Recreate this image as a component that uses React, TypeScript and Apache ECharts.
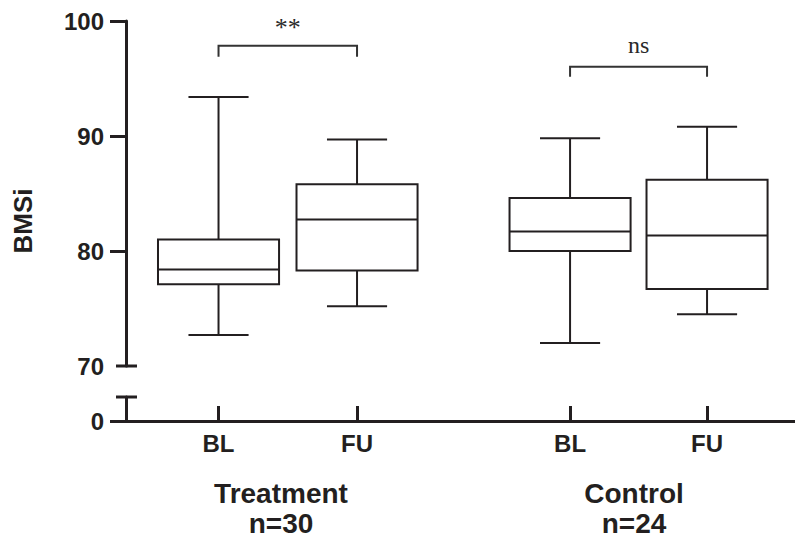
import React, { useEffect, useRef } from "react";
import * as echarts from "echarts";

// ---- data ----
const categories = ["BL", "FU", "BL", "FU"];
const groupLabels = ["Treatment\nn=30", "Control\nn=24"];
const positions = [1, 2, 3.538, 4.527];
const mins = [72.7, 75.2, 72.0, 74.5];
const q1s = [77.1, 78.3, 80.0, 76.7];
const medians = [78.4, 82.75, 81.7, 81.35];
const q3s = [81.0, 85.8, 84.6, 86.2];
const maxs = [93.4, 89.7, 89.8, 90.8];
const yTicksUpper = [70, 80, 90, 100];
const yTicksLower = [0];
// brackets
const bracketFrom = [0, 2];
const bracketTo = [1, 3];
const bracketTop = [97.85, 96.03];
const bracketBottom = [96.9, 95.16];
const bracketLabels = ["**", "ns"];
const bracketLabelY = [99.4, 97.9];
const bracketLabelSize = [26, 24];

const X_MIN = 0.332;
const X_MAX = 5.162;
const INK = "#231f20";

export default function App() {
  const ref = useRef<HTMLDivElement>(null);
  useEffect(() => {
    if (!ref.current) return;
    const chart = echarts.init(ref.current, null, { renderer: "svg" });
    const boxData = positions.map((p, i) => [p, mins[i], q1s[i], medians[i], q3s[i], maxs[i]]);
    const bracketData = bracketFrom.map((f, i) => [
      positions[f],
      positions[bracketTo[i]],
      bracketTop[i],
      bracketBottom[i],
      bracketLabelY[i],
      i,
    ]);
    const lineStyle = { stroke: INK, lineWidth: 2, fill: null };
    const labelFont = { fontFamily: "Liberation Sans", fontWeight: "bold" as const, fontSize: 24, color: INK };

    const option: any = {
      animation: false,
      grid: [
        { left: 126, right: 0, top: 21, height: 345 },
        { left: 126, right: 0, top: 397, height: 24 },
      ],
      xAxis: [
        { gridIndex: 0, type: "value", min: X_MIN, max: X_MAX, show: false },
        {
          gridIndex: 1,
          type: "value",
          min: X_MIN,
          max: X_MAX,
          splitLine: { show: false },
          axisLine: { show: true, lineStyle: { color: INK, width: 3 } },
          axisTick: {
            show: true,
            inside: true,
            length: 15,
            customValues: positions,
            lineStyle: { color: INK, width: 3 },
          },
          axisLabel: {
            ...labelFont,
            margin: 10,
            customValues: positions,
            formatter: (v: number) => {
              let best = 0;
              positions.forEach((p, i) => {
                if (Math.abs(p - v) < Math.abs(positions[best] - v)) best = i;
              });
              return categories[best];
            },
          },
        },
      ],
      yAxis: [
        {
          gridIndex: 0,
          type: "value",
          min: 70,
          max: 100,
          interval: 10,
          splitLine: { show: false },
          axisLine: { show: true, lineStyle: { color: INK, width: 3 } },
          axisTick: {
            show: true,
            length: 16,
            customValues: yTicksUpper.filter((v) => v !== 70),
            lineStyle: { color: INK, width: 3 },
          },
          axisLabel: { ...labelFont, margin: 22, customValues: yTicksUpper },
        },
        {
          gridIndex: 1,
          type: "value",
          min: 0,
          max: 1,
          splitLine: { show: false },
          axisLine: { show: true, lineStyle: { color: INK, width: 3 } },
          axisTick: {
            show: true,
            length: 16,
            customValues: yTicksLower,
            lineStyle: { color: INK, width: 3 },
          },
          axisLabel: { ...labelFont, margin: 22, customValues: yTicksLower },
        },
      ],
      series: [
        {
          type: "custom",
          xAxisIndex: 0,
          yAxisIndex: 0,
          data: boxData,
          encode: { x: 0, y: [1, 5] },
          renderItem: (params: any, api: any) => {
            const x = api.value(0);
            const pMin = api.coord([x, api.value(1)]);
            const pQ1 = api.coord([x, api.value(2)]);
            const pMed = api.coord([x, api.value(3)]);
            const pQ3 = api.coord([x, api.value(4)]);
            const pMax = api.coord([x, api.value(5)]);
            const unit = api.size([1, 0])[0];
            const hw = unit * 0.437;
            const cw = unit * 0.217;
            const cx = pMed[0];
            return {
              type: "group",
              children: [
                { type: "line", shape: { x1: cx, y1: pMax[1], x2: cx, y2: pQ3[1] }, style: lineStyle },
                { type: "line", shape: { x1: cx - cw, y1: pMax[1], x2: cx + cw, y2: pMax[1] }, style: lineStyle },
                { type: "line", shape: { x1: cx, y1: pQ1[1], x2: cx, y2: pMin[1] }, style: lineStyle },
                { type: "line", shape: { x1: cx - cw, y1: pMin[1], x2: cx + cw, y2: pMin[1] }, style: lineStyle },
                {
                  type: "rect",
                  shape: { x: cx - hw, y: pQ3[1], width: 2 * hw, height: pQ1[1] - pQ3[1] },
                  style: { stroke: INK, lineWidth: 2, fill: "#fff" },
                },
                { type: "line", shape: { x1: cx - hw, y1: pMed[1], x2: cx + hw, y2: pMed[1] }, style: lineStyle },
              ],
            };
          },
        },
        {
          type: "custom",
          xAxisIndex: 0,
          yAxisIndex: 0,
          data: bracketData,
          clip: false,
          renderItem: (params: any, api: any) => {
            const a = api.coord([api.value(0), api.value(2)]);
            const b = api.coord([api.value(1), api.value(2)]);
            const bottom = api.coord([api.value(0), api.value(3)]);
            const lab = api.coord([(api.value(0) + api.value(1)) / 2, api.value(4)]);
            const idx = api.value(5);
            return {
              type: "group",
              children: [
                {
                  type: "polyline",
                  shape: { points: [[a[0], bottom[1]], [a[0], a[1]], [b[0], b[1]], [b[0], bottom[1]]] },
                  style: { stroke: "#333", lineWidth: 2, fill: null },
                },
                {
                  type: "text",
                  x: lab[0],
                  y: lab[1],
                  style: {
                    text: bracketLabels[idx],
                    font: bracketLabelSize[idx] + 'px "Liberation Serif"',
                    fill: "#2a2a2a",
                    align: "center",
                    verticalAlign: "middle",
                  },
                },
              ],
            };
          },
        },
        {
          type: "custom",
          xAxisIndex: 0,
          yAxisIndex: 0,
          data: [[X_MIN, 70]],
          clip: false,
          renderItem: (params: any, api: any) => {
            const p = api.coord([api.value(0), api.value(1)]);
            return {
              type: "line",
              shape: { x1: p[0] - 10, y1: p[1], x2: p[0] + 11, y2: p[1] },
              style: { stroke: INK, lineWidth: 3 },
            };
          },
        },
        {
          type: "custom",
          xAxisIndex: 1,
          yAxisIndex: 1,
          data: [[X_MIN, 1]],
          clip: false,
          renderItem: (params: any, api: any) => {
            const p = api.coord([api.value(0), api.value(1)]);
            return {
              type: "line",
              shape: { x1: p[0] - 10, y1: p[1], x2: p[0] + 11, y2: p[1] },
              style: { stroke: INK, lineWidth: 3 },
            };
          },
        },
      ],
      graphic: [
        {
          type: "text",
          x: 23,
          y: 221,
          rotation: Math.PI / 2,
          style: {
            text: "BMSi",
            font: 'bold 26px "Liberation Sans"',
            fill: INK,
            align: "center",
            verticalAlign: "middle",
          },
        },
        {
          type: "text",
          x: 281,
          y: 478,
          style: {
            text: groupLabels[0],
            font: 'bold 28px "Liberation Sans"',
            lineHeight: 30,
            fill: INK,
            align: "center",
            verticalAlign: "top",
          },
        },
        {
          type: "text",
          x: 634,
          y: 478,
          style: {
            text: groupLabels[1],
            font: 'bold 28px "Liberation Sans"',
            lineHeight: 30,
            fill: INK,
            align: "center",
            verticalAlign: "top",
          },
        },
      ],
    };
    chart.setOption(option);
    return () => chart.dispose();
  }, []);
  return (
    <div
      ref={ref}
      style={{ position: "fixed", left: 0, top: 0, width: 795, height: 540, background: "#fff" }}
    />
  );
}
